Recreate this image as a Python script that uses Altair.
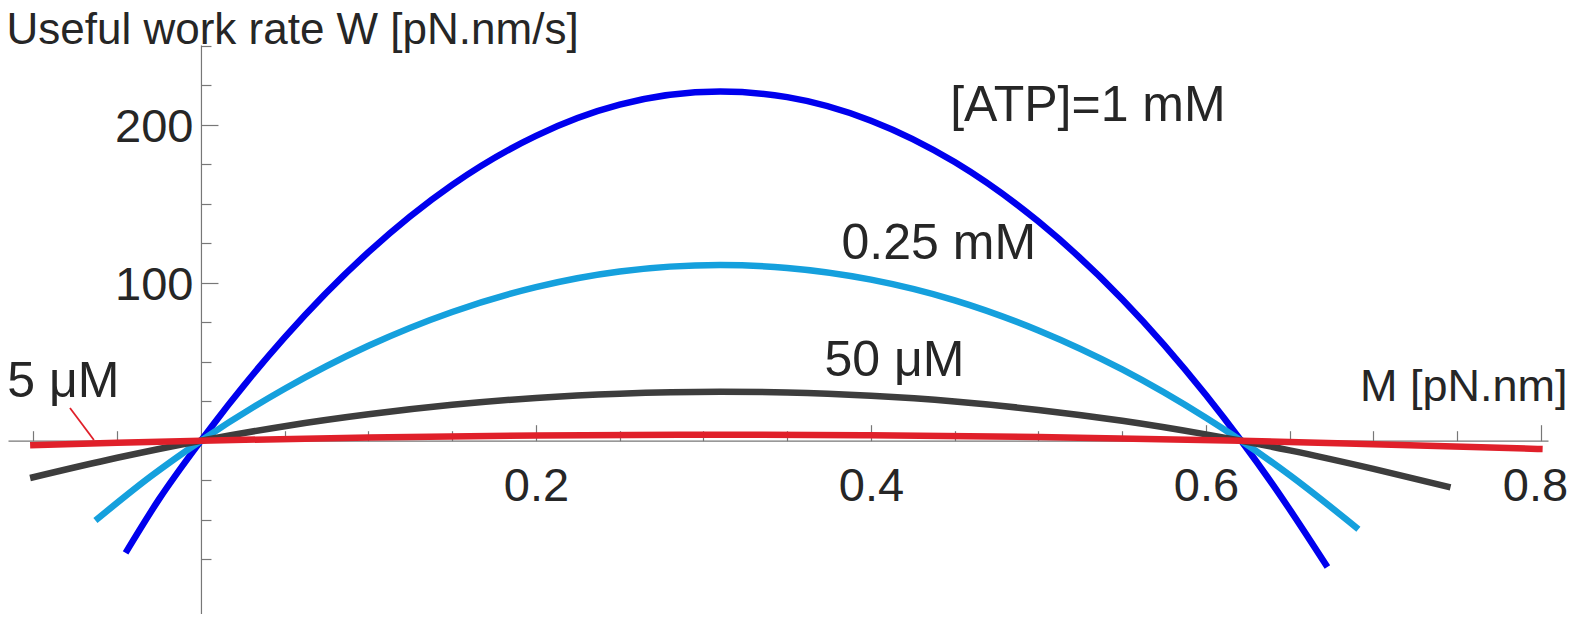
import altair as alt
import pandas as pd

# ---- data ----
M_1mM = [-0.045, -0.025, 0.0, 0.05, 0.1, 0.15, 0.2, 0.25, 0.31, 0.35, 0.4, 0.45, 0.5, 0.55, 0.6, 0.621, 0.64, 0.6725]
W_1mM = [-71.0, -37.0, 0.0, 65.4, 119.4, 162.0, 193.0, 212.7, 221.0, 217.5, 202.6, 176.4, 138.7, 89.6, 28.9, 0.0, -27.9, -80.0]

M_025mM = [-0.063, -0.03, 0.0, 0.05, 0.1, 0.15, 0.2, 0.25, 0.31, 0.35, 0.4, 0.45, 0.5, 0.55, 0.6, 0.621, 0.65, 0.691]
W_025mM = [-50.5, -22.6, 0.0, 32.9, 60.1, 81.5, 97.2, 107.1, 111.2, 109.4, 102.0, 88.9, 69.8, 45.1, 14.5, 0.0, -21.8, -56.0]

M_50uM = [-0.102, -0.05, 0.0, 0.05, 0.1, 0.15, 0.2, 0.25, 0.31, 0.35, 0.4, 0.45, 0.5, 0.55, 0.6, 0.621, 0.65, 0.7, 0.746]
W_50uM = [-23.6, -10.8, 0.0, 9.2, 16.7, 22.7, 27.1, 29.8, 31.0, 30.5, 28.4, 24.8, 19.5, 12.6, 4.0, 0.0, -6.1, -17.8, -29.5]

M_5uM = [-0.102, -0.05, 0.0, 0.1, 0.2, 0.31, 0.4, 0.5, 0.621, 0.7, 0.801]
W_5uM = [-2.9, -1.3, 0.0, 2.1, 3.3, 3.8, 3.5, 2.4, 0.0, -2.2, -5.3]

ANN_TEXT = ["[ATP]=1 mM", "0.25 mM", "50 μM", "5 μM"]
ANN_M = [0.5295, 0.4405, 0.4140, -0.0822]
ANN_W = [202.3, 115.0, 41.0, 27.8]

POINTER_M = [-0.0782, -0.0639]
POINTER_W = [20.7, 0.4]

X_LABELS = [0.2, 0.4, 0.6, 0.8]
X_TICKS = [-0.1, -0.05, 0.05, 0.1, 0.15, 0.2, 0.25, 0.3, 0.35, 0.4, 0.45, 0.5,
           0.55, 0.6, 0.65, 0.7, 0.75, 0.8]
Y_LABELS = [100, 200]
Y_TICKS = [-75, -50, -25, 25, 50, 75, 100, 125, 150, 175, 200, 225, 250]

X_TITLE = "M [pN.nm]"
Y_TITLE = "Useful work rate W [pN.nm/s]"

COLORS = {"1mM": "#0000ee", "025mM": "#15a0dd", "50uM": "#3d3d3d", "5uM": "#e0202a"}

# ---- layout ----
X_DOMAIN = [-0.1152, 0.8042]
Y_DOMAIN = [-109.7, 250.5]
PX_PER_W = 1.58
PLOT_W = 1540
PLOT_H = round((Y_DOMAIN[1] - Y_DOMAIN[0]) * PX_PER_W)
PAD_TOP = 606 - PLOT_H
PAD_RIGHT = 22
x0px = PLOT_W * (0 - X_DOMAIN[0]) / (X_DOMAIN[1] - X_DOMAIN[0])
y0px = PLOT_H * (Y_DOMAIN[1] - 0) / (Y_DOMAIN[1] - Y_DOMAIN[0])

FONT = "Liberation Sans"
TXT = "#262626"
AX = "#777777"

xs = alt.Scale(domain=X_DOMAIN, nice=False, zero=False)
ys = alt.Scale(domain=Y_DOMAIN, nice=False, zero=False)

x_label_axis = alt.Axis(
    orient="bottom", offset=-(PLOT_H - y0px), values=X_LABELS, format=".1f",
    ticks=False, tickSize=0, domain=False, grid=False,
    labelFont=FONT, labelFontSize=47, labelColor=TXT, labelPadding=23,
    labelOffset={"condition": {"test": "datum.value > 0.75", "value": -6}, "value": 0},
    labelFlush=False, labelOverlap=False, labelBound=False,
    title=X_TITLE, titleFont=FONT, titleFontSize=45, titleFontWeight="normal",
    titleColor=TXT, titleAlign="right", titleBaseline="alphabetic",
    titleX=1559, titleY=-40.7, titleAngle=0,
)
y_label_axis = alt.Axis(
    orient="left", offset=-x0px, values=Y_LABELS,
    ticks=False, tickSize=0, domain=False, grid=False,
    labelFont=FONT, labelFontSize=47, labelColor=TXT, labelPadding=8,
    labelOffset=3, labelFlush=False, labelOverlap=False, labelBound=False,
    title=Y_TITLE, titleFont=FONT, titleFontSize=44, titleFontWeight="normal",
    titleColor=TXT, titleAlign="left", titleBaseline="alphabetic",
    titleX=-x0px - 2, titleY=-(PAD_TOP - 35), titleAngle=0,
)
x_tick_axis = alt.Axis(
    orient="top", offset=-y0px, values=X_TICKS, labels=False, grid=False,
    domain=True, domainColor=AX, domainWidth=1.2,
    ticks=True, tickColor=AX, tickWidth=1.2,
    tickSize={"condition": {"test": "abs(datum.value*5 - round(datum.value*5)) < 0.001", "value": 16}, "value": 10},
    title=None,
)
y_tick_axis = alt.Axis(
    orient="right", offset=-(PLOT_W - x0px), values=Y_TICKS, labels=False, grid=False,
    domain=True, domainColor=AX, domainWidth=1.2,
    ticks=True, tickColor=AX, tickWidth=1.2,
    tickSize={"condition": {"test": "abs(datum.value) % 100 == 0", "value": 17}, "value": 10},
    title=None,
)


def line_layer(m, w, color, xaxis=None, yaxis=None):
    df = pd.DataFrame({"M": m, "W": w})
    return alt.Chart(df).mark_line(
        color=color, strokeWidth=6.5, interpolate="monotone", clip=False
    ).encode(
        x=alt.X("M:Q", scale=xs, axis=xaxis),
        y=alt.Y("W:Q", scale=ys, axis=yaxis),
    )


ann_df = pd.DataFrame({"t": ANN_TEXT, "M": ANN_M, "W": ANN_W})
ann = alt.Chart(ann_df).mark_text(
    font=FONT, fontSize=50, color=TXT, align="center", baseline="alphabetic"
).encode(
    x=alt.X("M:Q", scale=xs, axis=x_tick_axis),
    y=alt.Y("W:Q", scale=ys, axis=y_tick_axis),
    text="t:N",
)

ptr_df = pd.DataFrame({"M": [POINTER_M[0]], "W": [POINTER_W[0]],
                       "M2": [POINTER_M[1]], "W2": [POINTER_W[1]]})
ptr = alt.Chart(ptr_df).mark_rule(color=COLORS["5uM"], strokeWidth=1.8).encode(
    x=alt.X("M:Q", scale=xs, axis=None),
    y=alt.Y("W:Q", scale=ys, axis=None),
    x2="M2:Q",
    y2="W2:Q",
)

chart = alt.layer(
    ann,
    line_layer(M_1mM, W_1mM, COLORS["1mM"], x_label_axis, y_label_axis),
    line_layer(M_025mM, W_025mM, COLORS["025mM"]),
    line_layer(M_50uM, W_50uM, COLORS["50uM"]),
    line_layer(M_5uM, W_5uM, COLORS["5uM"]),
    ptr,
).resolve_scale(x="shared", y="shared").resolve_axis(
    x="independent", y="independent"
).properties(
    width=PLOT_W,
    height=PLOT_H,
    padding={"left": 0, "top": PAD_TOP, "right": PAD_RIGHT, "bottom": 0},
    autosize=alt.AutoSizeParams(type="none"),
).configure_view(stroke=None).configure_axis(grid=False)

chart.save("out.html", embed_options={"renderer": "svg", "actions": False})
